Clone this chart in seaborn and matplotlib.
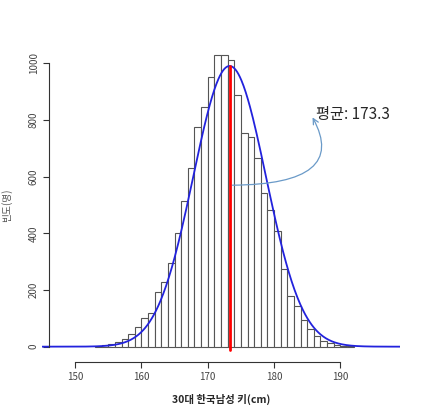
import numpy as np
import pandas as pd
import matplotlib
matplotlib.use("Agg")
import matplotlib.pyplot as plt
import seaborn as sns

sns.set_style("white")
plt.rcParams['font.family'] = ['Noto Sans CJK KR', 'DejaVu Sans']

bin_left = list(range(153, 192))
counts = [3, 6, 9, 15, 26, 45, 68, 100, 118, 192, 227, 294, 402, 514, 629, 774, 847,
          953, 1029, 1029, 1012, 888, 755, 741, 665, 544, 482, 409, 273, 179, 144,
          94, 61, 38, 21, 12, 6, 3, 2]
mean_label = 173.3
x_ticks = [150, 160, 170, 180, 190]
y_ticks = [0, 200, 400, 600, 800, 1000]

edges = [float(b) for b in bin_left] + [float(bin_left[-1] + 1)]
centers = np.array(bin_left) + 0.5
w = np.array(counts, dtype=float)
N = w.sum()
mu = mean_label
sd = np.sqrt(np.sum(w * (centers - np.average(centers, weights=w)) ** 2) / N)

fig = plt.figure(figsize=(4.24, 4.18), dpi=100)
ax = fig.add_axes([42/424, 0.130, 358/424, 0.759])

df = pd.DataFrame({"x": centers, "w": w})
sns.histplot(data=df, x="x", weights="w", bins=edges, ax=ax,
             color="white", edgecolor="#555555", linewidth=0.8, alpha=1)

xs = np.linspace(145, 199, 500)
ys = N / (sd * np.sqrt(2 * np.pi)) * np.exp(-0.5 * ((xs - mu) / sd) ** 2)
sns.lineplot(x=xs, y=ys, ax=ax, color="#2222dd", linewidth=1.3)
ax.plot([mu, mu], [-12, ys.max()], color="red", linewidth=2)

ax.annotate("", xy=(185.6, 818), xytext=(mu, 570),
            arrowprops=dict(arrowstyle="->", color="#6a9ac8", lw=0.9,
                            connectionstyle="angle3,angleA=0,angleB=-60"))
ax.text(186.3, 818, "평균: 173.3", fontsize=11, va="center", ha="left")

ax.set_xlim(145, 199)
ax.set_ylim(-60, 1060)
for s in ["top", "right"]:
    ax.spines[s].set_visible(False)
ax.spines["left"].set_position(("data", 146.1))
ax.spines["left"].set_bounds(0, 1000)
ax.spines["bottom"].set_position(("data", -54))
ax.spines["bottom"].set_bounds(150, 190)
for s in ["left", "bottom"]:
    ax.spines[s].set_color("#333333")
    ax.spines[s].set_linewidth(0.8)
ax.set_xticks(x_ticks)
ax.set_yticks(y_ticks)
ax.tick_params(axis="both", length=4, width=0.8, color="#333333",
               labelsize=7, labelcolor="#444444", direction="out",
               bottom=True, left=True)
plt.setp(ax.get_yticklabels(), rotation=90, va="center")
ax.set_xlabel("30대 한국남성 키(cm)", fontsize=7.5, fontweight="bold", labelpad=8)
ax.set_ylabel("빈도(명)", fontsize=7, color="#555555", labelpad=12)

fig.savefig("out.png", dpi=100)
